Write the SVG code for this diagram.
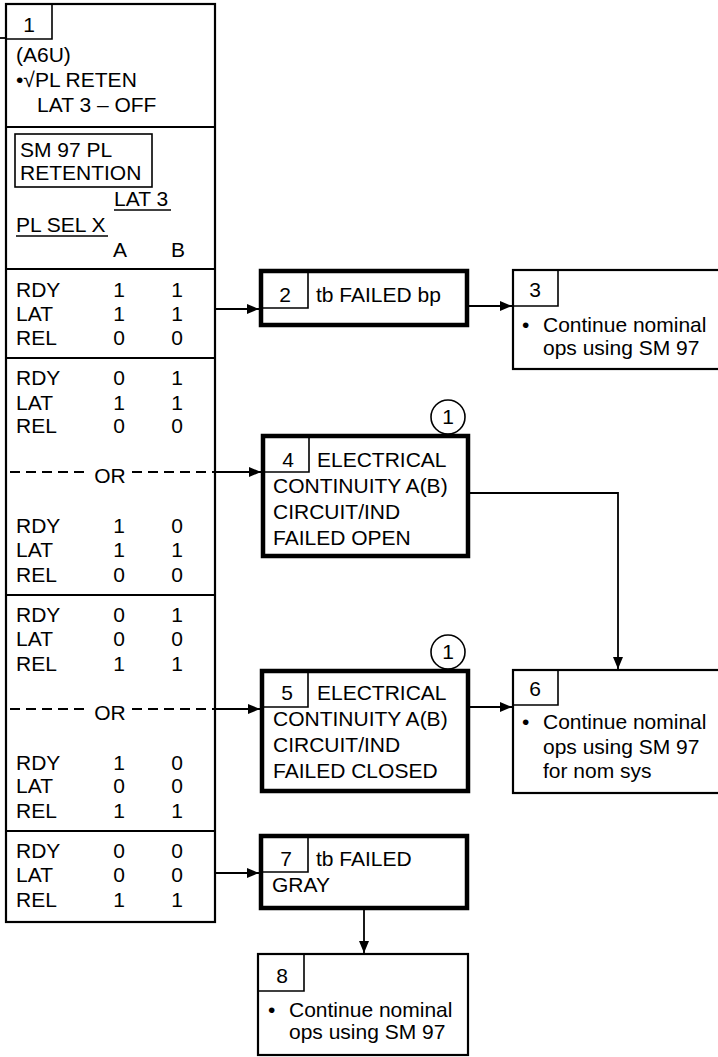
<svg xmlns="http://www.w3.org/2000/svg" width="718" height="1057" viewBox="0 0 718 1057">
<defs>
<style>
text{font-family:"Liberation Sans",Arial,sans-serif;font-size:21px;fill:#000}
.c{text-anchor:middle}
.thick{fill:#fff;stroke:#000;stroke-width:4.5}
.box{fill:#fff;stroke:#000;stroke-width:2.2}
.thin{fill:none;stroke:#000;stroke-width:1.6}
.div{fill:none;stroke:#000;stroke-width:2.2}
.conn{fill:none;stroke:#000;stroke-width:1.8}
.dash{fill:none;stroke:#000;stroke-width:1.8;stroke-dasharray:10 6}
</style>
<marker id="ah" viewBox="0 0 12 10" refX="12" refY="5" markerWidth="12" markerHeight="10" markerUnits="userSpaceOnUse" orient="auto">
<path d="M0,0 L12,5 L0,10 Z" fill="#000"/>
</marker>
</defs>
<g id="node1">
<rect x="6" y="4" width="209" height="918" class="box" stroke-width="2.6"/>
<path d="M6,39 H52 V4" class="thin"/>
<text x="29" y="32" class="c">1</text>
<text x="16" y="62">(A6U)</text>
<text x="16" y="87">•√PL RETEN</text>
<text x="37" y="112">LAT 3 – OFF</text>
<path d="M6,127 H215 M6,269 H215 M6,358 H215 M6,595 H215 M6,831 H215" class="div"/>
<rect x="15" y="134" width="137" height="53" class="thin"/>
<text x="20" y="157">SM 97 PL</text>
<text x="20" y="180">RETENTION</text>
<text x="114" y="206">LAT 3</text>
<path d="M114,210 H171" class="thin"/>
<text x="16" y="232">PL SEL X</text>
<path d="M16,236 H108" class="thin"/>
<text x="120" y="257" class="c">A</text>
<text x="178" y="257" class="c">B</text>
<g>
<text x="16" y="297">RDY</text><text x="119" y="297" class="c">1</text><text x="177" y="297" class="c">1</text>
<text x="16" y="321">LAT</text><text x="119" y="321" class="c">1</text><text x="177" y="321" class="c">1</text>
<text x="16" y="345">REL</text><text x="119" y="345" class="c">0</text><text x="177" y="345" class="c">0</text>
</g>
<g>
<text x="16" y="385">RDY</text><text x="119" y="385" class="c">0</text><text x="177" y="385" class="c">1</text>
<text x="16" y="410">LAT</text><text x="119" y="410" class="c">1</text><text x="177" y="410" class="c">1</text>
<text x="16" y="433">REL</text><text x="119" y="433" class="c">0</text><text x="177" y="433" class="c">0</text>
<text x="110" y="483" class="c">OR</text>
<text x="16" y="533">RDY</text><text x="119" y="533" class="c">1</text><text x="177" y="533" class="c">0</text>
<text x="16" y="557">LAT</text><text x="119" y="557" class="c">1</text><text x="177" y="557" class="c">1</text>
<text x="16" y="582">REL</text><text x="119" y="582" class="c">0</text><text x="177" y="582" class="c">0</text>
</g>
<g>
<text x="16" y="622">RDY</text><text x="119" y="622" class="c">0</text><text x="177" y="622" class="c">1</text>
<text x="16" y="646">LAT</text><text x="119" y="646" class="c">0</text><text x="177" y="646" class="c">0</text>
<text x="16" y="671">REL</text><text x="119" y="671" class="c">1</text><text x="177" y="671" class="c">1</text>
<text x="110" y="720" class="c">OR</text>
<text x="16" y="770">RDY</text><text x="119" y="770" class="c">1</text><text x="177" y="770" class="c">0</text>
<text x="16" y="793">LAT</text><text x="119" y="793" class="c">0</text><text x="177" y="793" class="c">0</text>
<text x="16" y="818">REL</text><text x="119" y="818" class="c">1</text><text x="177" y="818" class="c">1</text>
</g>
<g>
<text x="16" y="858">RDY</text><text x="119" y="858" class="c">0</text><text x="177" y="858" class="c">0</text>
<text x="16" y="882">LAT</text><text x="119" y="882" class="c">0</text><text x="177" y="882" class="c">0</text>
<text x="16" y="907">REL</text><text x="119" y="907" class="c">1</text><text x="177" y="907" class="c">1</text>
</g>
</g>
<g id="node2">
<rect x="261" y="271" width="206" height="54" class="thick"/>
<path d="M261,308 H308 V271" class="thin"/>
<text x="285" y="302" class="c">2</text>
<text x="316" y="302">tb FAILED bp</text>
</g>
<g id="node3">
<rect x="513" y="270" width="212" height="99" class="box"/>
<path d="M513,306 H558 V270" class="thin"/>
<text x="535" y="297" class="c">3</text>
<text x="522" y="332">•</text>
<text x="543" y="332">Continue nominal</text>
<text x="543" y="355">ops using SM 97</text>
</g>
<g id="node4">
<rect x="263" y="436" width="205" height="120" class="thick"/>
<path d="M263,472 H309 V436" class="thin"/>
<circle cx="448" cy="417" r="17" class="thin"/>
<text x="448" y="424" class="c">1</text>
<text x="288" y="467" class="c">4</text>
<text x="317" y="467">ELECTRICAL</text>
<text x="273" y="493">CONTINUITY A(B)</text>
<text x="273" y="519">CIRCUIT/IND</text>
<text x="273" y="545">FAILED OPEN</text>
</g>
<g id="node5">
<rect x="262" y="671" width="206" height="120" class="thick"/>
<path d="M262,707 H308 V671" class="thin"/>
<circle cx="448" cy="652" r="17" class="thin"/>
<text x="448" y="659" class="c">1</text>
<text x="287" y="700" class="c">5</text>
<text x="317" y="700">ELECTRICAL</text>
<text x="273" y="726">CONTINUITY A(B)</text>
<text x="273" y="752">CIRCUIT/IND</text>
<text x="273" y="778">FAILED CLOSED</text>
</g>
<g id="node6">
<rect x="513" y="670" width="212" height="123" class="box"/>
<path d="M513,705 H558 V670" class="thin"/>
<text x="535" y="696" class="c">6</text>
<text x="522" y="729">•</text>
<text x="543" y="729">Continue nominal</text>
<text x="543" y="754">ops using SM 97</text>
<text x="543" y="778">for nom sys</text>
</g>
<g id="node7">
<rect x="261" y="836" width="206" height="72" class="thick"/>
<path d="M261,872 H308 V836" class="thin"/>
<text x="286" y="866" class="c">7</text>
<text x="316" y="866">tb FAILED</text>
<text x="272" y="892">GRAY</text>
</g>
<g id="node8">
<rect x="258" y="954" width="210" height="101" class="box"/>
<path d="M258,991 H304 V954" class="thin"/>
<text x="282" y="983" class="c">8</text>
<text x="268" y="1017">•</text>
<text x="289" y="1017">Continue nominal</text>
<text x="289" y="1039">ops using SM 97</text>
</g>
<g id="connectors">
<path d="M0,38 H6" class="conn"/>
<path d="M215,309 H259" class="conn" marker-end="url(#ah)"/>
<path d="M469,306 H512" class="conn" marker-end="url(#ah)"/>
<path d="M10,472 H90 M132,472 H215" class="dash"/>
<path d="M215,472 H261" class="conn" marker-end="url(#ah)"/>
<path d="M470,493 H618 V669" class="conn" marker-end="url(#ah)"/>
<path d="M10,709 H90 M132,709 H215" class="dash"/>
<path d="M215,709 H260" class="conn" marker-end="url(#ah)"/>
<path d="M470,707 H512" class="conn" marker-end="url(#ah)"/>
<path d="M215,873 H259" class="conn" marker-end="url(#ah)"/>
<path d="M364,910 V953" class="conn" marker-end="url(#ah)"/>
</g>
</svg>
